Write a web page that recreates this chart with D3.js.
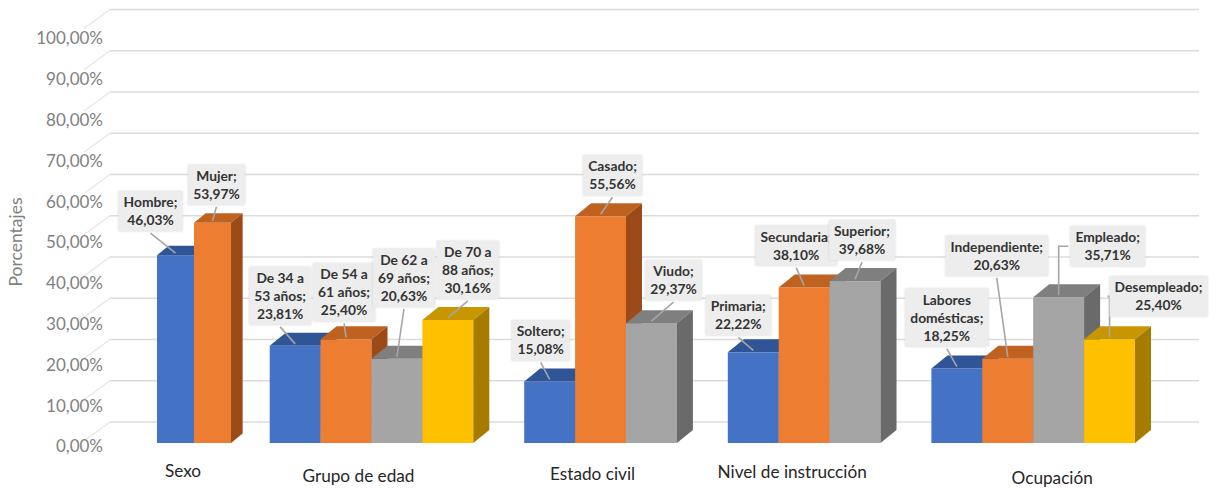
<!DOCTYPE html>
<html lang="es">
<head>
<meta charset="UTF-8">
<script src="https://d3js.org/d3.v7.min.js"></script>
<style>
  body { margin: 0; background: #fff; }
  text { font-family: Lato, "Noto Sans", sans-serif; }
</style>
</head>
<body>
<svg id="chart" width="1218" height="488"></svg>
<script>
// --- data ---
const groups = ["Sexo", "Grupo de edad", "Estado civil", "Nivel de instrucción", "Ocupación"];

const sexoCats = ["Hombre", "Mujer"];
const sexoVals = [46.03, 53.97];

const edadCats = ["De 34 a\n53 años", "De 54 a\n61 años", "De 62 a\n69 años", "De 70 a\n88 años"];
const edadVals = [23.81, 25.40, 20.63, 30.16];

const civilCats = ["Soltero", "Casado", "Viudo"];
const civilVals = [15.08, 55.56, 29.37];

const nivelCats = ["Primaria", "Secundaria", "Superior"];
const nivelVals = [22.22, 38.10, 39.68];

const ocupCats = ["Labores\ndomésticas", "Independiente", "Empleado", "Desempleado"];
const ocupVals = [18.25, 20.63, 35.71, 25.40];

const yTicks = [0, 10, 20, 30, 40, 50, 60, 70, 80, 90, 100];

const seriesCats = [sexoCats, edadCats, civilCats, nivelCats, ocupCats];
const seriesVals = [sexoVals, edadVals, civilVals, nivelVals, ocupVals];

// --- layout (slot units along the x axis, label nudges) ---
const groupLayout = [
  { start: 0.786, unit: 0.727, labelDx: -11, labelY: 473 },
  { start: 3, unit: 1, labelDx: -13, labelY: 478 },
  { start: 8, unit: 1, labelDx: -8, labelY: 476 },
  { start: 12, unit: 1, labelDx: -12, labelY: 474 },
  { start: 16, unit: 1, labelDx: 19, labelY: 480 }
];
// data label box centre relative to the bar top
const labelNudge = [
  [[-25, -44], [4, -38]],
  [[-15, -50], [-2, -47], [7, -81], [20, -50]],
  [[-9, -41], [12, -41], [22, -43]],
  [[-15, -37], [-8, -42], [7, -41]],
  [[-10, -51], [-11, -103], [49, -51], [49, -43]]
];

const colors = ["#4472c4", "#ed7d31", "#a5a5a5", "#ffc000"];
const topColors = ["#2f5597", "#c0621f", "#7f7f7f", "#c89600"];
const sideColors = ["#2a4d8a", "#9c4a18", "#6a6a6a", "#a67c00"];

const fmt = v => d3.format(".2f")(v).replace(".", ",") + "%";

const svg = d3.select("#chart");

const x = d3.scaleLinear().domain([0, 20]).range([117, 1135]);
const yFront = d3.scaleLinear().domain([0, 100]).range([443, 35]);
const yBack = d3.scaleLinear().domain([0, 100]).range([422, 9.5]);

// back wall grid
const grid = svg.append("g");
yTicks.forEach(t => {
  const yy = yBack(t);
  grid.append("line")
    .attr("x1", 110).attr("x2", 1199)
    .attr("y1", yy).attr("y2", yy)
    .attr("stroke", "#dcdcdc").attr("stroke-width", 1.5);
  grid.append("line")
    .attr("x1", 110).attr("x2", 84)
    .attr("y1", yy).attr("y2", yy + 19)
    .attr("stroke", "#e6e6e6").attr("stroke-width", 1.2);
});

// tick labels
svg.append("g").selectAll("text").data(yTicks).join("text")
  .attr("x", 103)
  .attr("y", d => yFront(d) + 5)
  .attr("text-anchor", "end")
  .attr("dominant-baseline", "middle")
  .attr("font-size", 17)
  .attr("fill", "#7f7f7f")
  .text(d => fmt(d));

svg.append("text")
  .attr("transform", "translate(22,242) rotate(-90)")
  .attr("text-anchor", "middle")
  .attr("font-size", 17.5)
  .attr("fill", "#7f7f7f")
  .text("Porcentajes");

// bars
const bars = svg.append("g");
const anchors = [];
seriesVals.forEach((vals, g) => {
  const L = groupLayout[g];
  const dx = 16 * L.unit, dy = 13 * L.unit;
  vals.forEach((v, i) => {
    const x0 = x(L.start + i * L.unit), x1 = x(L.start + (i + 1) * L.unit);
    const yt = yFront(v), yb = yFront(0);
    bars.append("rect")
      .attr("x", x0).attr("y", yt)
      .attr("width", x1 - x0).attr("height", yb - yt)
      .attr("fill", colors[i]);
    bars.append("polygon")
      .attr("points", [[x0, yt], [x0 + dx, yt - dy], [x1 + dx, yt - dy], [x1, yt]].join(" "))
      .attr("fill", topColors[i]);
    bars.append("polygon")
      .attr("points", [[x1, yt], [x1 + dx, yt - dy], [x1 + dx, yb - dy], [x1, yb]].join(" "))
      .attr("fill", sideColors[i]);
    anchors.push({ g, i, v, cx: (x0 + x1) / 2, yt, cat: seriesCats[g][i] });
  });
});

// category labels
svg.append("g").selectAll("text").data(groups).join("text")
  .attr("x", (d, g) => {
    const L = groupLayout[g];
    const n = seriesVals[g].length;
    return (x(L.start) + x(L.start + n * L.unit)) / 2 + L.labelDx;
  })
  .attr("y", (d, g) => groupLayout[g].labelY)
  .attr("text-anchor", "middle")
  .attr("dominant-baseline", "middle")
  .attr("font-size", 17.2)
  .attr("fill", "#262626")
  .text(d => d);

// data labels
const defs = svg.append("defs");
const f = defs.append("filter").attr("id", "sh").attr("x", "-20%").attr("y", "-20%").attr("width", "140%").attr("height", "140%");
f.append("feDropShadow").attr("dx", 0).attr("dy", 0).attr("stdDeviation", 1.2)
  .attr("flood-color", "#bbb").attr("flood-opacity", 0.6);

const leaders = svg.append("g");
const labels = svg.append("g");
const lineH = 18;
anchors.forEach(a => {
  const [ndx, ndy] = labelNudge[a.g][a.i];
  const cx = a.cx + ndx, cy = a.yt + ndy;
  const lines = a.cat.split("\n");
  lines[lines.length - 1] += ";";
  lines.push(fmt(a.v));

  const grp = labels.append("g");
  const txt = grp.append("text")
    .attr("text-anchor", "middle")
    .attr("font-size", 13.8)
    .attr("font-weight", "bold")
    .attr("fill", "#333");
  lines.forEach((ln, k) => {
    txt.append("tspan")
      .attr("x", cx)
      .attr("y", cy + (k - (lines.length - 1) / 2) * lineH + 5)
      .text(ln);
  });
  const w = d3.max(txt.selectAll("tspan").nodes(), n => n.getComputedTextLength());
  const bw = w + 10, bh = lines.length * lineH + 4;
  const bx = cx - bw / 2, by = cy - bh / 2;
  grp.insert("rect", "text")
    .attr("x", bx).attr("y", by)
    .attr("width", bw).attr("height", bh)
    .attr("fill", "#ededed")
    .attr("filter", "url(#sh)");

  // leader line
  const ax = a.cx, ay = a.yt - 2;
  const pts = ax < bx
    ? [[ax, ay], [ax, cy], [bx - 2, cy]]
    : [[ax, ay], [cx, by + bh + 2]];
  leaders.append("path")
    .attr("d", d3.line()(pts))
    .attr("fill", "none")
    .attr("stroke", "#a6a6a6")
    .attr("stroke-width", 1.6);
});
</script>
</body>
</html>
